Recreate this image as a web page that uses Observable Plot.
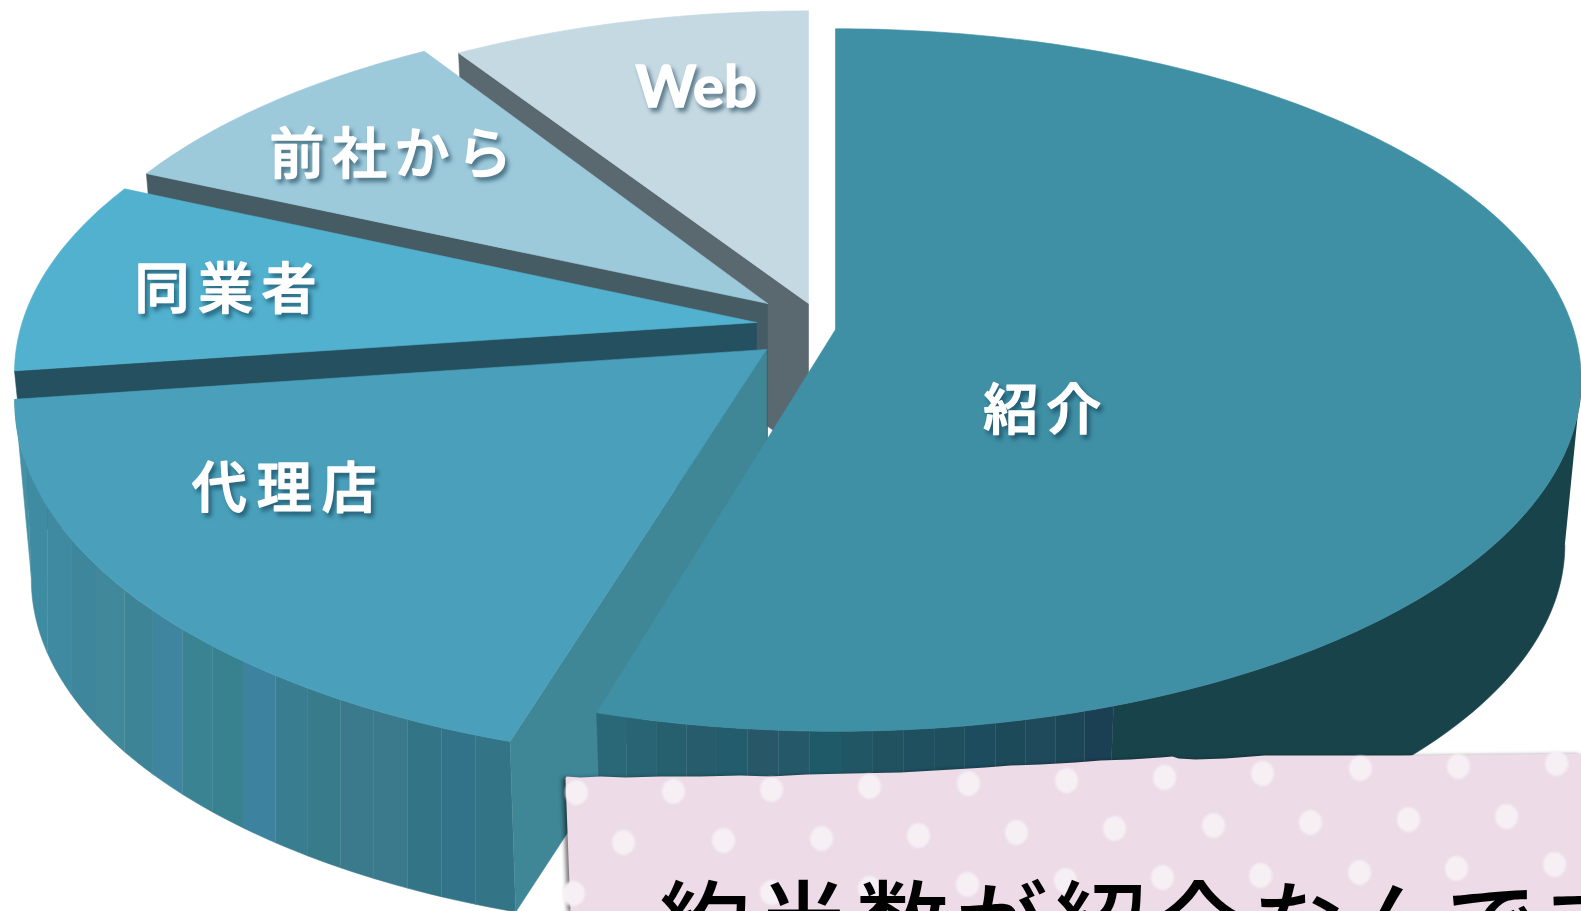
<!DOCTYPE html>
<html lang="ja">
<head>
<meta charset="utf-8">
<script src="https://cdn.jsdelivr.net/npm/d3@7"></script>
<script src="https://cdn.jsdelivr.net/npm/@observablehq/plot@0.6"></script>
<style>
html,body{margin:0;padding:0;background:#fff;overflow:hidden}
svg{display:block}
</style>
</head>
<body>
<div id="chart"></div>
<script>
// Data (share of the pie, %), clockwise from 12 o'clock
const categories = ["紹介", "代理店", "同業者", "前社から", "Web"];
const shares = [54.5, 18.3, 8.95, 9.3, 8.95];
const noteText = "約半数が紹介なんです";

// Colours
const topColors = ["#3f8fa5", "#4aa0bb", "#52b1cf", "#9ccadb", "#c5d9e3"];
const wallColors = ["#19434a", "#3f8696", "#245060", "#455c64", "#5a6970"];
const rimBandsMain = ["#2a6878","#296474","#265f6e","#275c6c","#235c6c","#285868","#25596a","#1f5a68","#215664","#21525f","#1f505f","#1f4e5d","#1d4c5f","#1d4a58","#1e4a5c","#1c4656","#1b4053"];
const rimBandsAgent = ["#347487","#33738a","#347487","#3b798d","#3a7a8c","#387c8c","#397e90","#3d829f","#38828f","#3a8393","#3f85a0","#3d8596","#42889b","#3e869b","#3f8aa0","#3f8ca2","#4491a5"];

// Perspective of the pie plane and each slice's exploded placement
const persp = {A: 738, B: 344, k: 0.1437, shrink: 0.978};
const layout = [
  {ax: 835, ay: 329, rx: 1.000, ry: 1.000, drop: 166, startTwist: 0, label: [0.276, 0.230], size: 55, gap: 8},
  {ax: 766, ay: 349, rx: 1.008, ry: 1.030, drop: 179, startTwist: 1.1, label: [-0.607, 0.374], size: 55, gap: 10},
  {ax: 756, ay: 322, rx: 0.995, ry: 1.000, drop: 160, startTwist: 0, label: [-0.727, -0.094], size: 55, gap: 8.5},
  {ax: 767, ay: 303, rx: 0.978, ry: 0.972, drop: 155, startTwist: 0, label: [-0.552, -0.472], size: 55, gap: 7.5},
  {ax: 808, ay: 303, rx: 0.975, ry: 0.973, drop: 152, startTwist: -0.8, label: [-0.172, -0.708], size: 58, gap: 0}
];

// Pink note: torn outline and polka dots
const noteEdgeX = [570, 565, 566, 580, 600, 625, 660, 700, 740, 770, 806, 850, 900, 952, 985, 1010, 1040, 1075, 1100, 1130, 1160, 1172, 1178, 1195, 1225, 1264, 1400, 1581, 1581];
const noteEdgeY = [911, 778, 776, 777, 776, 777, 776, 776, 775, 776, 774, 773, 772, 769, 767, 765, 764, 762, 760, 759, 757, 756, 758, 759, 758, 755, 755, 753, 911];
const dotX = [576,673,771,869,968,1066,1164,1262,1360,1458,1556, 623,723,821,918,1016,1114,1213,1310,1408,1506, 573,771,869,967,1065,1162,1260,1359,1456,1554];
const dotY = [792,791,789,786,783,780,777,773,768,766,763, 842,840,838,835,832,828,825,822,819,816, 893,892,888,884,880,877,875,872,868,864];

// Slice angles come from the shares
const deg = Math.PI / 180;
const arcs = d3.pie().sort(null).value(d => d)(shares).map((a, i) => ({
  startAngle: a.startAngle + layout[i].startTwist * deg,
  endAngle: a.endAngle
}));

function pt(s, u, v, lower) {
  const w = 1 - persp.k * v, f = lower ? persp.shrink : 1;
  return {
    x: s.ax + f * persp.A * s.rx * u / w,
    y: s.ay + f * persp.B * s.ry * v / w + (lower ? s.drop : 0)
  };
}
const onRim = (s, t, lower) => pt(s, Math.sin(t), -Math.cos(t), lower);
function arcPts(s, t0, t1, lower) {
  const n = Math.max(2, Math.ceil(Math.abs(t1 - t0) / deg));
  return d3.range(n + 1).map(i => onRim(s, t0 + (t1 - t0) * i / n, lower));
}
function wedge(s, t0, t1) { return [pt(s, 0, 0), ...arcPts(s, t0, t1, false), pt(s, 0, 0)]; }
function band(s, t0, t1) { return [...arcPts(s, t0, t1, false), ...arcPts(s, t1, t0, true)]; }
function edgeWall(s, t) {
  return [pt(s, 0, 0), onRim(s, t, false), onRim(s, t, true), pt(s, 0, 0, true), pt(s, 0, 0)];
}
// angle on the lower rim straight below the upper rim at angle t (x falls as the angle grows here)
function below(s, t, lo, hi) {
  const x = onRim(s, t, false).x;
  for (let i = 0; i < 30; i++) {
    const m = (lo + hi) / 2;
    if (onRim(s, m, true).x > x) lo = m; else hi = m;
  }
  return (lo + hi) / 2;
}
// shaded rim: vertical seams between colour bands, as in the picture
function bands(s, angles, colors, rawEnds) {
  const lo = angles[0], hi = angles[angles.length - 1];
  const low = angles.map((t, j) =>
    (j === 0 || (rawEnds && j === angles.length - 1)) ? t : below(s, t, lo, hi));
  colors.forEach((c, j) => {
    marks.push(poly([...arcPts(s, angles[j], angles[j + 1], false),
                     ...arcPts(s, low[j + 1], low[j], true)], c));
  });
}
function poly(points, color) {
  return Plot.line(points, {x: "x", y: "y", fill: color, stroke: color, strokeWidth: 0.6});
}

const marks = [];
// painter's order: far slices first
[4, 3, 2, 1, 0].forEach(i => {
  const s = layout[i], a = arcs[i];
  if (i === 1) {
    const n = rimBandsAgent.length;
    const uA = -Math.sin(a.startAngle), uB = -Math.sin(a.endAngle);
    const angles = d3.range(n + 1).map(j => Math.PI + Math.asin(uA + (uB - uA) * j / n));
    bands(s, angles, rimBandsAgent, true);
    marks.push(poly(edgeWall(s, a.startAngle), wallColors[i]));
  } else if (i === 0) {
    const solidFrom = 98.3 * deg, split = 161 * deg;
    marks.push(poly(band(s, solidFrom, split), wallColors[i]));
    const n = rimBandsMain.length;
    const angles = d3.range(n + 1).map(j => a.endAngle - (a.endAngle - split) * j / n).reverse();
    // run from the split to the slice's end, so the raw end is the slice's corner
    bands(s, angles, rimBandsMain.slice().reverse(), true);
  } else {
    marks.push(poly(edgeWall(s, a.startAngle), wallColors[i]));
  }
  marks.push(poly(wedge(s, a.startAngle, a.endAngle), topColors[i]));
});

// slice labels
const labelRows = categories.map((name, i) => {
  const s = layout[i], p = pt(s, s.label[0], s.label[1]);
  return {name, x: p.x, y: p.y, size: s.size, gap: s.gap};
});
categories.forEach((name, i) => {
  marks.push(Plot.text([labelRows[i]], {
    x: "x", y: "y", text: "name",
    fontFamily: name === "Web" ? "Lato, 'Noto Sans', sans-serif" : "'Noto Sans CJK JP', sans-serif",
    fontSize: labelRows[i].size,
    fontWeight: name === "Web" ? 700 : 500,
    fill: "#ffffff", stroke: "#ffffff", strokeWidth: 1.5,
    imageFilter: "drop-shadow(3px 4px 2px rgba(10,50,70,0.55))"
  }));
});

// note
const noteEdge = noteEdgeX.map((x, i) => ({x, y: noteEdgeY[i]}));
marks.push(Plot.line(noteEdge, {x: "x", y: "y", fill: "#eddbe7", stroke: "none",
  imageFilter: "drop-shadow(-3px 1px 2px rgba(0,0,0,0.55))"}));
const ellipse = {draw(ctx, size) {
  const r = Math.sqrt(size / Math.PI), a = r * 0.96, b = r * 1.04, c = 0.5523;
  ctx.moveTo(a, 0);
  ctx.bezierCurveTo(a, c * b, c * a, b, 0, b);
  ctx.bezierCurveTo(-c * a, b, -a, c * b, -a, 0);
  ctx.bezierCurveTo(-a, -c * b, -c * a, -b, 0, -b);
  ctx.bezierCurveTo(c * a, -b, a, -c * b, a, 0);
  ctx.closePath();
}};
marks.push(Plot.dot(dotX.map((x, i) => ({x, y: dotY[i]})), {
  x: "x", y: "y", r: 12, symbol: ellipse, fill: "#f6f0f5", stroke: "none",
  imageFilter: "blur(0.8px)"
}));
marks.push(Plot.text([{t: noteText, x: 658, y: 957}], {
  x: "x", y: "y", text: "t", textAnchor: "start", lineAnchor: "bottom",
  fontFamily: "'Noto Sans CJK JP', sans-serif", fontSize: 92, fontWeight: 500, fill: "#000"
}));

const chart = Plot.plot({
  width: 1581, height: 911,
  marginTop: 0, marginRight: 0, marginBottom: 0, marginLeft: 0,
  x: {domain: [0, 1581], range: [0, 1581], axis: null},
  y: {domain: [0, 911], range: [0, 911], axis: null},
  style: {background: "#fff"},
  marks
});
document.getElementById("chart").append(chart);
// letter spacing (Plot has no option for it)
d3.select(chart).selectAll("text").each(function () {
  const i = categories.indexOf(this.textContent);
  if (i >= 0) this.style.letterSpacing = labelRows[i].gap + "px";
  else if (this.textContent === noteText) this.style.letterSpacing = "7px";
});
</script>
</body>
</html>
